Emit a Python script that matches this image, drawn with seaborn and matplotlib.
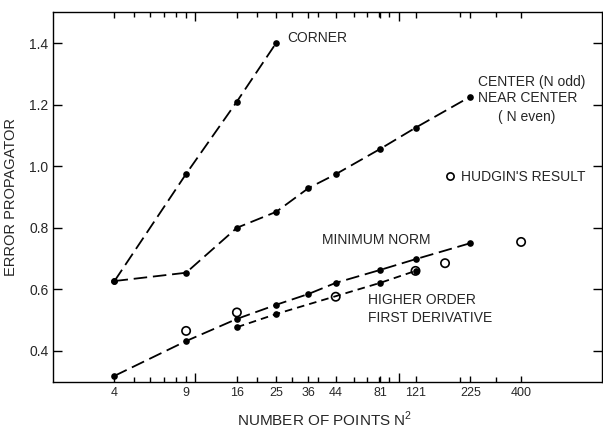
import matplotlib
matplotlib.use("Agg")
import matplotlib.pyplot as plt
import seaborn as sns
from matplotlib.ticker import FixedLocator, NullFormatter
from matplotlib.lines import Line2D

# ---- data ----
corner_n2 = [4, 9, 16, 25]
corner_err = [0.627, 0.975, 1.210, 1.401]

center_n2 = [4, 9, 16, 25, 36, 49, 81, 121, 225]
center_err = [0.627, 0.654, 0.800, 0.852, 0.929, 0.974, 1.056, 1.125, 1.226]

minnorm_n2 = [4, 9, 16, 25, 36, 49, 81, 121, 225]
minnorm_err = [0.319, 0.432, 0.504, 0.550, 0.585, 0.621, 0.663, 0.698, 0.750]

higher_n2 = [16, 25, 81, 121]
higher_err = [0.477, 0.520, 0.621, 0.660]

hudgin_n2 = [9, 16, 49, 121, 169, 400]
hudgin_err = [0.465, 0.525, 0.576, 0.660, 0.685, 0.754]

x_tick_values = [4, 9, 16, 25, 36, 49, 81, 121, 225, 400]
x_tick_labels = ["4", "9", "16", "25", "36", "44", "81", "121", "225", "400"]
y_tick_values = [0.4, 0.6, 0.8, 1.0, 1.2, 1.4]
y_tick_labels = ["0.4", "0.6", "0.8", "1.0", "1.2", "1.4"]

# ---- style ----
sns.set_style("ticks")
plt.rcParams["font.family"] = ["Liberation Sans", "DejaVu Sans"]
plt.rcParams["axes.linewidth"] = 1.0

W, H = 603, 428
fig = plt.figure(figsize=(W / 100, H / 100), dpi=100)
left_px, right_px, top_px, bot_px = 53.3, 602.0, 12.3, 381.7
ax = fig.add_axes([left_px / W, 1 - bot_px / H, (right_px - left_px) / W, (bot_px - top_px) / H])

long_dash = (0, (7.5, 3.2))
short_dash = (0, (4.2, 2.8))
lw = 1.3
ms = 4.8

sns.lineplot(x=corner_n2, y=corner_err, ax=ax, color="black", lw=lw,
             linestyle=long_dash, marker="o", markersize=ms, markeredgewidth=0)
sns.lineplot(x=center_n2, y=center_err, ax=ax, color="black", lw=lw,
             linestyle=long_dash, marker="o", markersize=ms, markeredgewidth=0)
sns.lineplot(x=minnorm_n2, y=minnorm_err, ax=ax, color="black", lw=lw,
             linestyle=long_dash, marker="o", markersize=ms, markeredgewidth=0)
sns.lineplot(x=higher_n2, y=higher_err, ax=ax, color="black", lw=lw,
             linestyle=short_dash, marker="o", markersize=ms, markeredgewidth=0)
sns.scatterplot(x=hudgin_n2, y=hudgin_err, ax=ax, marker="o", s=36,
                facecolor="none", edgecolor="black", linewidth=1.2, zorder=5)

ax.set_xscale("log")
ax.set_xlim(2, 1000)
ax.set_ylim(0.3, 1.5)

ax.xaxis.set_major_locator(FixedLocator(x_tick_values))
ax.set_xticklabels(x_tick_labels)
ax.xaxis.set_minor_locator(FixedLocator([5, 6, 7, 8, 10, 20, 30, 40, 60, 70, 80, 90, 100, 200, 300]))
ax.xaxis.set_minor_formatter(NullFormatter())
ax.set_yticks(y_tick_values)
ax.set_yticklabels(y_tick_labels)

ax.tick_params(axis="both", which="both", direction="in", top=True, right=True,
               color="black", width=1.0)
ax.tick_params(axis="x", which="major", length=4.5, labelsize=9, pad=4)
ax.tick_params(axis="x", which="minor", length=3.5)
ax.tick_params(axis="y", which="major", length=6.5, labelsize=10, pad=3.5)

minor_locs = ax.xaxis.get_minorticklocs()
for loc, t in zip(minor_locs, ax.xaxis.get_minor_ticks(len(minor_locs))):
    if loc in (10, 100):
        t.tick1line.set_markersize(6.5)
        t.tick2line.set_markersize(6.5)

for s in ax.spines.values():
    s.set_color("black")
    s.set_linewidth(1.0)

ax.set_ylabel("ERROR PROPAGATOR", fontsize=10.5)
ax.yaxis.set_label_coords(-0.064, 0.5)
ax.set_xlabel("NUMBER OF POINTS N$^{\\mathregular{2}}$", fontsize=11)
ax.xaxis.set_label_coords(0.495, -0.075)

fs = 10
ax.text(28.2, 1.417, "CORNER", fontsize=fs, ha="left", va="center")
ax.text(245, 1.274, "CENTER (N odd)", fontsize=fs, ha="left", va="center")
ax.text(245, 1.222, "NEAR CENTER", fontsize=fs, ha="left", va="center")
ax.text(427, 1.161, "( N even)", fontsize=fs, ha="center", va="center")
ax.text(41.8, 0.760, "MINIMUM NORM", fontsize=fs, ha="left", va="center")
ax.text(70.6, 0.536, "HIGHER ORDER\nFIRST DERIVATIVE", fontsize=fs, ha="left",
        va="center", linespacing=1.35)

handle = Line2D([], [], linestyle="none", marker="o", markersize=5.2,
                markerfacecolor="none", markeredgecolor="black", markeredgewidth=1.2)
ax.legend([handle], ["HUDGIN'S RESULT"], loc="center left",
          bbox_to_anchor=(0.7096, 0.555), frameon=False, fontsize=fs,
          borderpad=0, borderaxespad=0, handlelength=1.0, handletextpad=0.3)

fig.savefig("out.png", dpi=100)
